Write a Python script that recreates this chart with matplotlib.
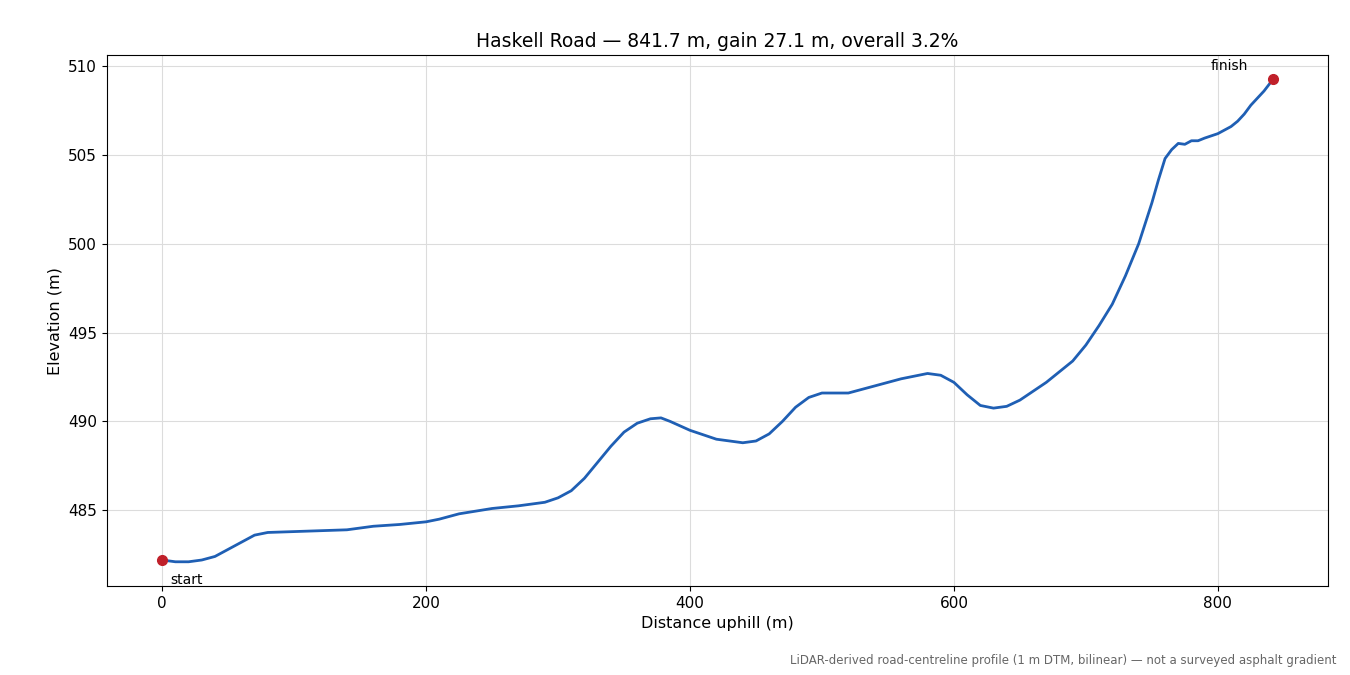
import matplotlib
matplotlib.use("Agg")
import matplotlib.pyplot as plt

dist = [0,10,20,30,40,50,60,70,80,100,140,160,180,200,210,225,250,270,290,300,310,320,330,340,350,360,370,378,385,400,420,440,450,460,470,480,490,500,520,540,560,580,590,600,610,620,630,640,650,670,690,700,710,720,730,740,750,755,760,765,770,775,780,785,790,800,810,815,820,825,830,835,841.7]
elev = [482.2,482.1,482.1,482.2,482.4,482.8,483.2,483.6,483.75,483.8,483.9,484.1,484.2,484.35,484.5,484.8,485.1,485.25,485.45,485.7,486.1,486.8,487.7,488.6,489.4,489.9,490.15,490.2,490.0,489.5,489.0,488.8,488.9,489.3,490.0,490.8,491.35,491.6,491.6,492.0,492.4,492.7,492.6,492.2,491.5,490.9,490.75,490.85,491.2,492.2,493.4,494.3,495.4,496.6,498.2,500.0,502.3,503.6,504.8,505.3,505.65,505.6,505.8,505.8,505.95,506.2,506.6,506.9,507.3,507.8,508.2,508.6,509.25]

fig, ax = plt.subplots(figsize=(13.5, 6.75), dpi=100)
fig.subplots_adjust(left=0.079, right=0.984, top=0.918, bottom=0.132)
ax.plot(dist, elev, color="#1f5fb4", lw=2)
ax.plot([dist[0], dist[-1]], [elev[0], elev[-1]], "o", color="#c0202a", ms=7)
ax.annotate("start", (dist[0], elev[0]), xytext=(6, -17), textcoords="offset points", fontsize=10)
ax.annotate("finish", (dist[-1], elev[-1]), xytext=(-45, 7), textcoords="offset points", fontsize=10)
ax.grid(True, color="#dcdcdc", lw=0.8)
ax.set_xlabel("Distance uphill (m)", fontsize=11.5)
ax.set_ylabel("Elevation (m)", fontsize=11.5)
ax.set_title("Haskell Road — 841.7 m, gain 27.1 m, overall 3.2%", fontsize=13.5)
ax.tick_params(labelsize=11)
ax.set_yticks([485, 490, 495, 500, 505, 510])
fig.text(0.99, 0.012, "LiDAR-derived road-centreline profile (1 m DTM, bilinear) — not a surveyed asphalt gradient",
         ha="right", va="bottom", fontsize=8.5, color="#666666")
fig.savefig("out.png")
